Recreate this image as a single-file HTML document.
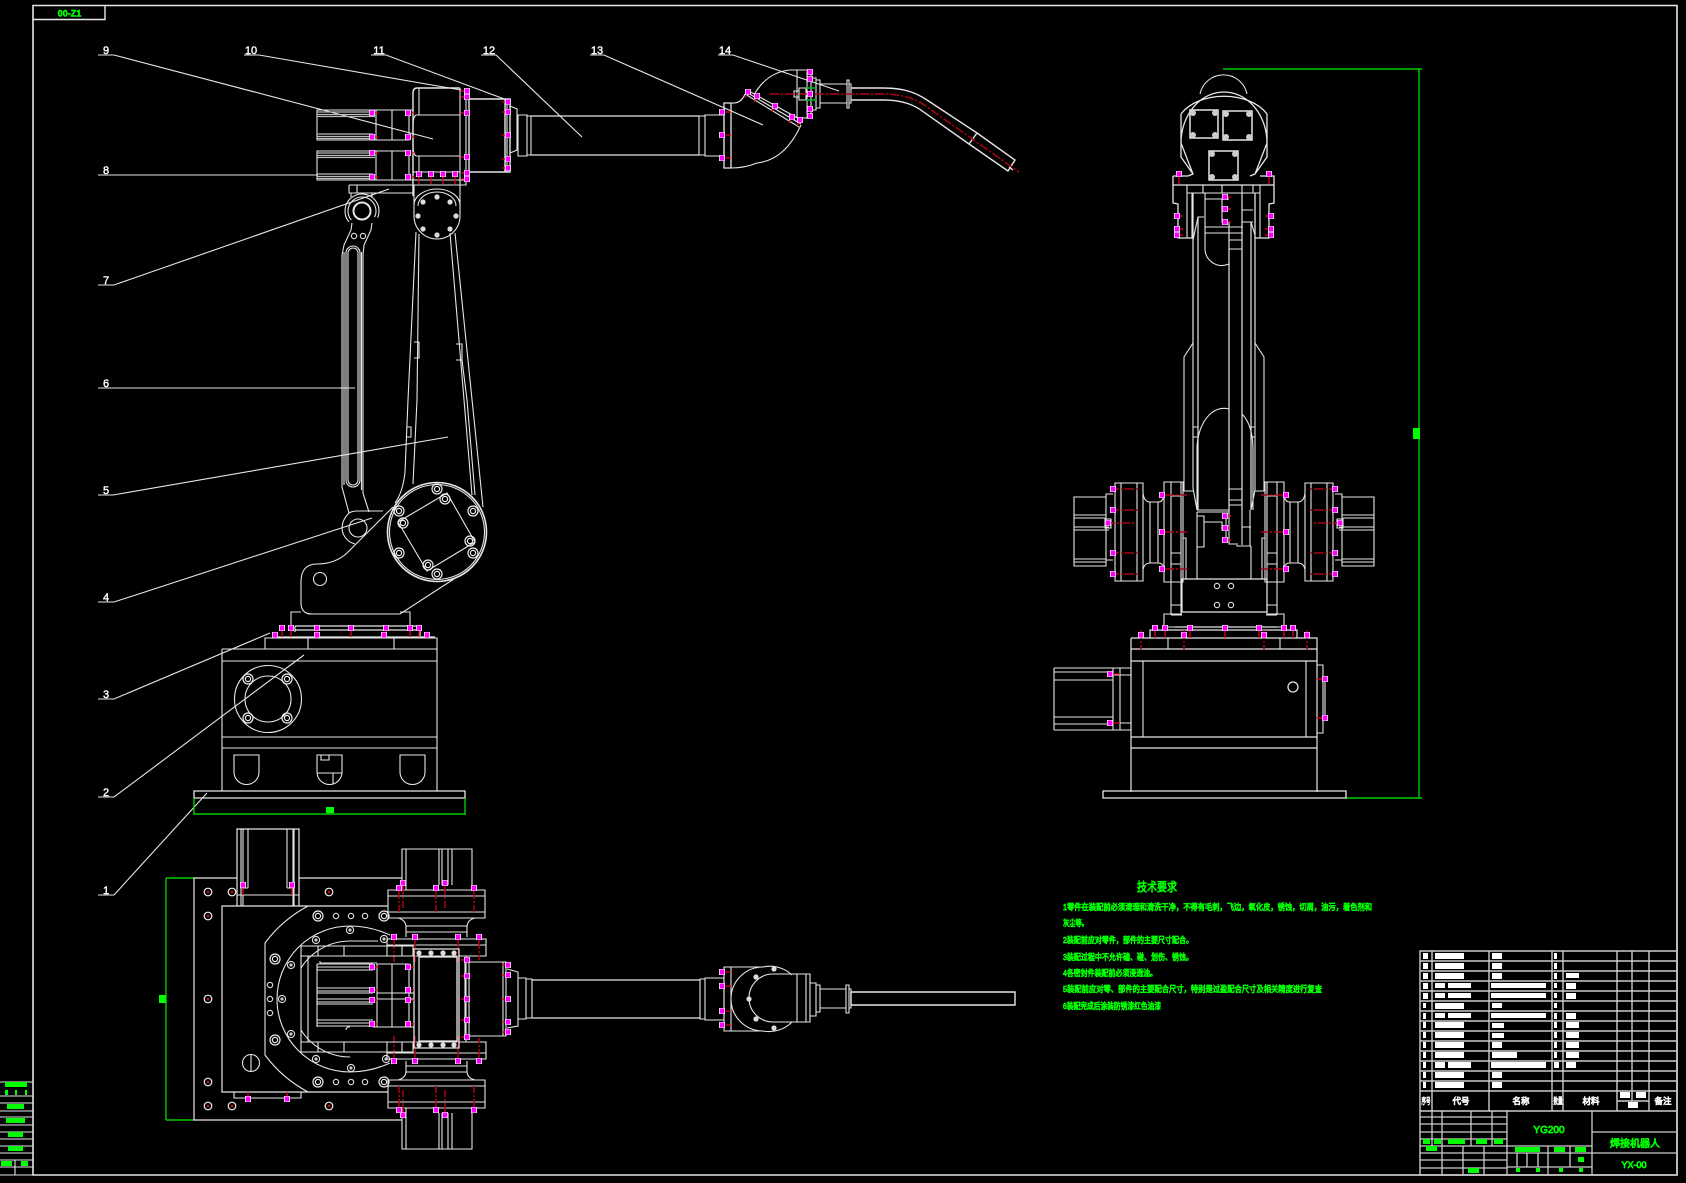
<!DOCTYPE html>
<html lang="zh"><head><meta charset="utf-8"><title>焊接机器人</title>
<style>
html,body{margin:0;padding:0;background:#000;width:1686px;height:1183px;overflow:hidden}
svg{display:block}
.w{fill:none;stroke:#e6e6e6;stroke-width:1.1}
.t{fill:none;stroke:#e6e6e6;stroke-width:1.4}
.g{fill:none;stroke:#0c0;stroke-width:1.4}
.r{fill:none;stroke:#e0001a;stroke-width:1.3}
.d{fill:none;stroke:#b00010;stroke-width:1.5;stroke-dasharray:9 2 2 2}
.gf{fill:#0f0}.wf{fill:#fff}
text{font-family:"Liberation Sans","Noto Sans CJK SC",sans-serif}
.lb{fill:#fff;font-size:11px;text-anchor:middle;stroke:#fff;stroke-width:.4}
.cn{fill:#0f0;stroke:#0f0;stroke-width:.75;font-size:8.5px}
.hd{fill:#fff;stroke:#fff;stroke-width:.7;font-size:8.5px;text-anchor:middle}
</style></head><body>
<svg width="1686" height="1183" viewBox="0 0 1686 1183" xmlns="http://www.w3.org/2000/svg">
<defs>
<g id="b"><rect x="-3" y="-3" width="6" height="6" fill="#eee"/><rect x="-2.200" y="-2.500" width="4.400" height="5" fill="#f0f"/></g>
<g id="h"><circle r="3.6" fill="none" stroke="#ddd" stroke-width="1.1"/><circle r="1.6" fill="#ccc"/></g>
<g id="f"><circle r="2.6" fill="#ddd"/></g>
<g id="H"><circle r="5" fill="none" stroke="#eee" stroke-width="1.2"/><circle r="2.6" fill="none" stroke="#eee" stroke-width="1.2"/></g>
<g id="o"><circle r="2.7" fill="none" stroke="#ddd" stroke-width="1.1"/></g>
<g id="p"><circle r="3.8" fill="none" stroke="#eee" stroke-width="1.2"/><circle r="1.2" fill="#e00"/></g>

<g id="sideL">
 <path class="w" d="M1074 497H1106V566H1074ZM1074 515H1106M1074 518H1105M1074 527H1109M1074 530H1109M1074 559H1106M1074 562H1106M1106 497V494H1113M1106 566V560H1113"/>
 <path class="w" d="M1105 519H1111V528H1105Z"/>
 <path class="w" d="M1115 483H1143V581H1115ZM1121 483V581M1137 483V581M1143 493Q1144 502 1150 502H1158Q1164 502 1164 493M1143 570Q1144 563 1150 563H1158Q1164 563 1164 570M1150 502V563M1158 502V563"/>
 <path class="w" d="M1164 482H1183V582H1164Z"/>
 <path class="w" d="M1171 482V615M1181 482V615M1171 496H1181M1171 553H1181M1171 564H1181M1171 605H1181M1171 615H1182M1183 538H1186V579"/>
 <path class="d" d="M1110 489H1138M1110 510H1138M1110 553H1138M1110 574H1138M1106 523H1134M1165 495H1187M1165 532H1187M1165 569H1187"/>
 <use href="#b" x="1113" y="489"/><use href="#b" x="1113" y="510"/><use href="#b" x="1113" y="553"/><use href="#b" x="1113" y="574"/><use href="#b" x="1108" y="523"/>
 <use href="#b" x="1162" y="495"/><use href="#b" x="1162" y="532"/><use href="#b" x="1162" y="569"/>
</g>

<g id="planHalf">
 <path class="w" d="M402 890V849H472V890M406 849V890M439 849V885M442 849V885M448 849V885M452 849V885"/>
 <path class="w" d="M388 890H485V918H388Z"/>
 <path class="w" d="M388 896H485M388 912H485M398 918Q406 920 406 927V937M475 918Q467 920 467 927V937M406 926H467M406 932H467"/>
 <path class="w" d="M387 939H486V956H387Z"/>
 <path class="w" d="M387 945H486"/>
 <path class="d" d="M399 890V912M403 886V908M436 890V912M445 886V908M474 890V912M394 940V962M415 940V962M458 940V962M479 940V960"/>
 <use href="#b" x="403" y="883"/><use href="#b" x="445" y="883"/><use href="#b" x="399" y="888"/><use href="#b" x="436" y="888"/><use href="#b" x="474" y="888"/>
 <use href="#b" x="394" y="937"/><use href="#b" x="415" y="937"/><use href="#b" x="458" y="937"/><use href="#b" x="479" y="937"/>
 <path class="w" d="M301 946H413V956H301ZM318 946V956M344 946V956M402 946V956"/>
 <use href="#f" x="419" y="953"/><use href="#f" x="431" y="953"/><use href="#f" x="443" y="953"/><use href="#f" x="454" y="953"/>
</g>
</defs>

<rect width="1686" height="1183" fill="#000"/>

<!-- frame -->
<path class="t" style="stroke-width:1.6" d="M33 5.500H1677V1175H33Z"/>
<path class="t" style="stroke-width:1.4" d="M33 19.500H105V5.500"/>
<text x="69.500" y="16.500" style="fill:#0f0;stroke:#0f0;stroke-width:.5;font-size:9px;font-weight:bold;text-anchor:middle">00-Z1</text>
<path class="w" d="M0 1175H33M0 1082H33M0 1096H33M0 1103H33M0 1111H33M0 1117H33M0 1125H33M0 1132H33M0 1139H33M0 1146H33M0 1153H33M0 1160H33M0 1167H33M15 1160V1175"/>
<path class="gf" d="M5 1082h22v5H5ZM5 1090h3v5H5ZM15 1090h2v5h-2ZM25 1090h2v5h-2ZM7 1104h17v5H7ZM6 1118h19v5H6ZM8 1132h15v5H8ZM8 1146h15v5H8ZM1 1161h11v5H1ZM21 1161h7v5h-7Z"/>

<!-- leaders -->
<path class="w" d="M98 55H114L433 139M244 55H259L461 90M371 55H386L507 100M481 55H496L582 137M590 55H604L763 125M718 55H733L839 91M98 175H318M98 285H114L389 189M98 388H355M98 495H113L448 437M98 602H114L372 518M98 699H114L270 633M98 797H114L304 655M98 895H114L207 793"/>
<text class="lb" x="106" y="54">9</text><text class="lb" x="251" y="54">10</text><text class="lb" x="379" y="54">11</text><text class="lb" x="489" y="54">12</text><text class="lb" x="597" y="54">13</text><text class="lb" x="725" y="54">14</text>
<text class="lb" x="106" y="174">8</text><text class="lb" x="106" y="284">7</text><text class="lb" x="106" y="387">6</text><text class="lb" x="106" y="494">5</text><text class="lb" x="106" y="601">4</text><text class="lb" x="106" y="698">3</text><text class="lb" x="106" y="796">2</text><text class="lb" x="106" y="894">1</text>

<!-- SIDE VIEW: motors -->
<path class="w" d="M317 110H409V140H317ZM317 151H409V180H317ZM376 110V140M376 151V180M392 110V140M392 151V180M409 110H413M409 180H413"/>
<path class="t" style="stroke-width:1.3;stroke:#bbb" d="M317 112H373M317 114.500H373M317 116.500H375M317 134H373M317 136.500H373M317 138.500H373M317 153H373M317 155.500H373M317 157.500H375M317 174H373M317 176.500H373M317 178.500H373"/>
<!-- head -->
<path class="t" d="M460 88H417Q413 88 413 93V196"/>
<path class="w" d="M419 88V115M419 156V172M460 88V185M466 88V185H460M416 115H460M416 156H460M416 115Q413 117 413 125V146Q413 154 416 156M413 172H460M413 180H466M349 185H466M349 185V193H413M357 185V193"/>
<path class="t" d="M469 99H505V172H469ZM505 99H510V172H505Z"/>
<path class="w" d="M507 99V172M510 106L517 109V150L510 153M518 115H527V156H518ZM527 116H531V155H527Z"/>
<path class="t" style="stroke-width:1.3" d="M531 116H699M531 155H699"/>
<path class="w" d="M699 116H705V155H699ZM705 115H724V156H705Z"/>
<path class="t" style="stroke-width:1.3" d="M724 103H731V168H724Z"/>
<!-- wrist -->
<path class="w" d="M731 103Q741 104 745 94M747 90L803 121M745 94L799 127M746 92L801 124M755 93Q768 72 790 70H807M801 125Q785 160 757 163Q745 168 731 168M797 70V118H807M807 70V118H811V70ZM811 78H816V110H811ZM816 80H820V108H816ZM820 84H847V103H820ZM847 80H849V108H847ZM849 84H851V103H849ZM794 91H799V97H794ZM799 88H806V100H799Z"/>
<path d="M806 88H816M806 100H816" stroke="#0b2" stroke-width="1.4" fill="none"/>
<path class="t" d="M851 88H883C903 88 915 92 927 100L977 133L1015 160L1008 171L969 144L925 113C915 105 903 100 883 100H851M977 133L969 144M1009 167L1013 170"/>
<path class="d" d="M770 94H887C900 95 910 97 920 102L1019 172"/>
<use href="#b" x="722" y="112"/><use href="#b" x="722" y="135"/><use href="#b" x="722" y="158"/>
<path class="r" d="M726 112H731M726 135H731M726 158H731M748 92l-3 6M757 96l-3 6M775 106l-3 6M792 117l-3 6M800 120l-3 6M806 71H813M806 78H813M806 94H813M806 109H813M806 115H813"/>
<use href="#b" x="748" y="92"/><use href="#b" x="757" y="96"/><use href="#b" x="775" y="106"/><use href="#b" x="792" y="117"/><use href="#b" x="800" y="120"/>
<use href="#b" x="810" y="72"/><use href="#b" x="810" y="79"/><use href="#b" x="810" y="94"/><use href="#b" x="810" y="109"/><use href="#b" x="810" y="116"/>
<!-- head bolts -->
<path class="r" d="M461 91H467M461 97H467M461 113H467M461 157H467M461 173H467M461 179H467M502 102H508M502 112H508M502 135H508M502 159H508M502 168H508M372 113H378M372 137H378M372 153H378M372 177H378M408 113H414M408 137H414M408 153H414M408 177H414M419 176V184M431 176V184M443 176V184M455 176V184"/>
<use href="#b" x="467" y="91"/><use href="#b" x="467" y="97"/><use href="#b" x="467" y="113"/><use href="#b" x="467" y="157"/><use href="#b" x="467" y="173"/><use href="#b" x="467" y="179"/>
<use href="#b" x="508" y="102"/><use href="#b" x="508" y="112"/><use href="#b" x="508" y="135"/><use href="#b" x="508" y="159"/><use href="#b" x="508" y="168"/>
<use href="#b" x="372" y="113"/><use href="#b" x="372" y="137"/><use href="#b" x="372" y="153"/><use href="#b" x="372" y="177"/><use href="#b" x="408" y="113"/><use href="#b" x="408" y="137"/><use href="#b" x="408" y="153"/><use href="#b" x="408" y="177"/>
<use href="#b" x="419" y="174"/><use href="#b" x="431" y="174"/><use href="#b" x="443" y="174"/><use href="#b" x="455" y="174"/>
<!-- elbow -->
<path class="w" d="M414 185V216A23 23 0 0 0 460 216V185M414 205A23 16 0 0 1 460 205M418 206A19 14 0 0 1 456 206"/>
<use href="#f" x="423" y="202"/><use href="#f" x="437" y="197"/><use href="#f" x="450" y="202"/><use href="#f" x="418" y="216"/><use href="#f" x="456" y="216"/><use href="#f" x="423" y="229"/><use href="#f" x="437" y="235"/><use href="#f" x="450" y="229"/>
<!-- upper arm -->
<path class="w" d="M416 232L408 400L405 472Q403 492 395 503M419 234L417 400L413 484M414 342H419V358H414M407 427H411V437H407M450 233L472 495M455 233L483 507M456 344H462V360H456M462 360L467 400L475 495"/>
<!-- link -->
<circle class="w" cx="362" cy="211" r="17" style="stroke-dasharray:72 35" transform="rotate(140 362 211)"/>
<circle class="w" cx="362" cy="211" r="14" style="stroke-dasharray:60 28" transform="rotate(140 362 211)"/>
<circle class="t" cx="362" cy="211" r="8.500" style="stroke-width:2"/>
<path class="w" d="M351 193V197M372 193V197M352 223L351 230L344 245L342 255V487L349 513M372 223L371 230L364 245L363 255V493L369 512M344 252V485M361.500 252V490M346 480V253A7 7 0 0 1 360 253V480A7 7 0 0 1 346 480ZM348 480V253A5 5 0 0 1 358 253V480A5 5 0 0 1 348 480Z"/>
<use href="#o" x="354" y="236"/><use href="#o" x="363" y="236"/>
<circle class="w" cx="358" cy="528" r="9"/>
<path class="w" d="M349 513Q342 520 342 528A17 17 0 0 0 355 544M349 513Q352 511 358 511H383"/>
<!-- shoulder / bracket -->
<circle class="t" cx="437" cy="532" r="49.500" style="stroke-width:1.6"/>
<circle class="w" cx="437" cy="532" r="47.500"/>
<path class="w" d="M398 522L447 493L475 542L427 571Z"/>
<use href="#H" x="437" y="489"/><use href="#H" x="473" y="511"/><use href="#H" x="473" y="553"/><use href="#H" x="437" y="574"/><use href="#H" x="399" y="553"/><use href="#H" x="399" y="511"/><use href="#H" x="403" y="523"/><use href="#H" x="445" y="499"/><use href="#H" x="470" y="541"/><use href="#H" x="428" y="565"/>
<path class="w" d="M393 507L347 553Q335 564 317 564Q301 564 301 582V603Q301 614 312 614H400L457 577"/>
<circle class="w" cx="320" cy="579" r="6.500"/>
<!-- base -->
<path class="w" d="M291 627V612H301M308 614H400M400 612H410V627"/>
<path class="t" style="stroke-width:1.2" d="M295 626H419M295 630H420V637M295 626V632M272 637H435"/>
<path class="w" d="M265 649V638H437V791M308 638V649M394 638V649M222 649H437M222 649V791M222 661H437M222 737H437M222 748H437"/>
<circle class="w" cx="268" cy="699" r="33.500"/><circle class="w" cx="268" cy="699" r="23"/>
<use href="#H" x="248" y="679"/><use href="#H" x="287" y="679"/><use href="#H" x="248" y="718"/><use href="#H" x="287" y="718"/>
<path class="w" d="M234 755H259V772A12.500 12.500 0 0 1 234 772ZM317 755H342V772A12.500 12.500 0 0 1 317 772ZM400 755H425V772A12.500 12.500 0 0 1 400 772ZM317 773H342M333 773V784M321 755V760H329V755"/>
<path class="r" d="M282 630V637M291 630V637M317 630V637M351 630V637M386 630V637M410 630V637M419 630V637"/>
<use href="#b" x="282" y="628"/><use href="#b" x="291" y="628"/><use href="#b" x="317" y="628"/><use href="#b" x="351" y="628"/><use href="#b" x="386" y="628"/><use href="#b" x="410" y="628"/><use href="#b" x="419" y="628"/>
<use href="#b" x="275" y="635"/><use href="#b" x="317" y="635"/><use href="#b" x="384" y="635"/><use href="#b" x="427" y="635"/>
<path class="t" style="stroke-width:1.3" d="M194 791H465V798H194Z"/>
<path class="g" d="M194 798V815M465 798V815M194 814H465"/><rect class="gf" x="326" y="807" width="8" height="6"/>

<!-- RIGHT VIEW -->
<path class="g" d="M1223 69H1422M1419 69V798M1346 798H1422"/><rect class="gf" x="1413" y="428" width="7" height="11"/>
<path class="w" d="M1200 94A24 24 0 0 1 1247 94"/>
<path class="t" style="stroke-width:1.3" d="M1181 114A48 32 0 0 1 1267 114V157L1255 174M1181 114V157L1193 174M1181 143A43 51 0 0 1 1267 143L1255 174L1250 176M1181 143L1193 174L1188 176"/>
<path class="t" style="stroke-width:1.5" d="M1190 110H1218V138H1190ZM1223 111H1252V140H1223ZM1209 151H1238V180H1209Z"/>
<g fill="#ccc"><circle cx="1193" cy="113" r="3"/><circle cx="1215" cy="113" r="3"/><circle cx="1193" cy="135" r="3"/><circle cx="1215" cy="135" r="3"/><circle cx="1226" cy="114" r="3"/><circle cx="1249" cy="114" r="3"/><circle cx="1226" cy="137" r="3"/><circle cx="1249" cy="137" r="3"/><circle cx="1212" cy="154" r="3"/><circle cx="1235" cy="154" r="3"/><circle cx="1212" cy="177" r="3"/><circle cx="1235" cy="177" r="3"/></g>
<path class="t" style="stroke-width:1.3" d="M1173 176H1188M1260 176H1274V185H1173V176M1173 185V203L1178 204V238H1193M1274 185V203L1269 204V238H1255"/>
<path class="w" d="M1187 185V238M1192 193V238M1260 185V238M1255 193V238M1187 193H1260M1203 185V193M1222 185V193M1242 185V193M1253 185V193"/>
<path class="t" style="stroke-width:1.2" d="M1193 193V343M1198 217V510M1229 222V512M1242 193V510M1251 222V510M1255 193V343"/>
<path class="w" d="M1193 240L1198 217H1204M1242 222H1251L1255 235M1205 193V247A17 17 0 0 0 1229 264M1205 199H1229M1205 227H1243M1205 233H1243M1229 240H1242M1229 249H1242M1242 210H1253M1242 222H1253M1222 199V222H1229"/>
<path class="w" d="M1193 343L1184 357V491H1193M1255 343L1264 357V491H1255M1193 343V488L1197 510M1255 343V490L1251 510M1197 510H1229M1197 512H1229M1197 450A27 41 0 0 1 1229 409M1242 414Q1253 425 1253 450M1197 450V510M1253 450V510M1193 427H1198M1193 437H1198M1251 427H1255M1251 437H1255M1229 489H1242M1229 500H1242M1229 505H1242M1242 510V545M1250 510V546M1242 527H1251M1237 545V546H1251M1229 512V544H1238"/>
<path class="w" d="M1197 512V579M1251 546V579M1197 516H1204V547H1197M1204 522H1222V530H1224M1222 516H1226V540H1222"/>
<use href="#sideL"/><use href="#sideL" transform="translate(2448 0) scale(-1 1)"/>
<path class="t" style="stroke-width:1.2" d="M1182 579H1267V612H1182Z"/>
<use href="#o" x="1217" y="586"/><use href="#o" x="1231" y="586"/><use href="#o" x="1217" y="605"/><use href="#o" x="1231" y="605"/>
<path class="w" d="M1164 627V614H1182M1267 614H1284V627M1164 627H1284"/>
<path class="t" style="stroke-width:1.2" d="M1175 627H1277M1150 638V630H1297V638"/>
<path class="t" style="stroke-width:1.2" d="M1131 638H1317V792M1131 638V792M1131 649H1317M1131 661H1317M1131 737H1317M1131 748H1317"/>
<path class="w" d="M1168 638V649M1280 638V649M1143 661V737M1306 661V737M1317 665H1323V733H1317M1323 680H1325V718"/>
<circle class="t" cx="1293" cy="687" r="5" style="stroke-width:1.3"/>
<path class="t" style="stroke-width:1.3" d="M1103 791H1346V798H1103Z"/>
<path class="w" d="M1054 668H1131M1054 672H1113M1054 680H1113M1054 717H1113M1054 724H1113M1054 730H1131M1054 668V730M1113 668V730M1120 668V730M1113 675H1131M1113 723H1131"/>
<path class="d" d="M1141 630V650M1184 630V650M1264 630V650M1307 630V650"/>
<path class="r" d="M1155 630V638M1165 630V638M1190 630V638M1225 630V638M1259 630V638M1284 630V638M1293 630V638M1113 674H1120M1113 723H1120M1316 679H1322M1316 718H1322"/>
<use href="#b" x="1155" y="628"/><use href="#b" x="1165" y="628"/><use href="#b" x="1190" y="628"/><use href="#b" x="1225" y="628"/><use href="#b" x="1259" y="628"/><use href="#b" x="1284" y="628"/><use href="#b" x="1293" y="628"/>
<use href="#b" x="1141" y="635"/><use href="#b" x="1184" y="635"/><use href="#b" x="1264" y="635"/><use href="#b" x="1307" y="635"/>
<use href="#b" x="1110" y="674"/><use href="#b" x="1110" y="723"/><use href="#b" x="1325" y="679"/><use href="#b" x="1325" y="718"/>
<path class="r" d="M1225 516H1231M1225 528H1231M1225 540H1231M1225 197H1231M1225 209H1231M1225 222H1231M1179 176V184M1269 176V184M1177 216H1183M1177 229H1183M1177 235H1183M1265 216H1271M1265 229H1271M1265 235H1271"/>
<use href="#b" x="1225" y="516"/><use href="#b" x="1225" y="528"/><use href="#b" x="1225" y="540"/><use href="#b" x="1225" y="197"/><use href="#b" x="1225" y="209"/><use href="#b" x="1225" y="222"/>
<use href="#b" x="1179" y="174"/><use href="#b" x="1269" y="174"/><use href="#b" x="1177" y="216"/><use href="#b" x="1177" y="229"/><use href="#b" x="1177" y="235"/><use href="#b" x="1271" y="216"/><use href="#b" x="1271" y="229"/><use href="#b" x="1271" y="235"/>

<!-- PLAN VIEW -->
<path class="g" d="M166 878V1120M166 878H194M166 1120H194"/><rect class="gf" x="159" y="995" width="7" height="8"/>
<path class="t" style="stroke-width:1.2" d="M237 878H194V1120H402M299 878H402"/>
<path class="t" style="stroke-width:1.2" d="M237 906V829H299V906"/>
<path class="w" d="M241 829V906M243 829V906M248 829V888M287 829V888M293 829V906M294 829V906M237 895H299M241 888H248M287 888H294"/>
<path class="t" style="stroke-width:1.2" d="M388 906H222V1092H388"/>
<path class="w" d="M308 906Q282 920 265 943V1055Q282 1078 308 1092"/>
<path class="w" d="M350 926A73 73 0 0 0 350 1072M350 926Q370 926 390 935M350 1072Q370 1072 390 1063M350 941A58 58 0 0 0 301 968M350 1057A58 58 0 0 1 301 1030M350 941H378"/>
<use href="#h" x="350" y="930"/><use href="#h" x="316" y="940"/><use href="#h" x="291" y="965"/><use href="#h" x="282" y="999"/><use href="#h" x="291" y="1034"/><use href="#h" x="316" y="1059"/><use href="#h" x="351" y="1068"/><use href="#h" x="386" y="1059"/><use href="#h" x="384" y="939"/>
<use href="#H" x="318" y="916"/><use href="#H" x="384" y="916"/><use href="#H" x="275" y="959"/><use href="#H" x="275" y="1040"/><use href="#H" x="318" y="1082"/><use href="#H" x="384" y="1082"/>
<use href="#o" x="336" y="916"/><use href="#o" x="351" y="916"/><use href="#o" x="365" y="916"/><use href="#o" x="336" y="1082"/><use href="#o" x="351" y="1082"/><use href="#o" x="365" y="1082"/><use href="#o" x="270" y="985"/><use href="#o" x="270" y="999"/><use href="#o" x="270" y="1013"/>
<use href="#p" x="208" y="892"/><use href="#p" x="232" y="892"/><use href="#p" x="329" y="892"/><use href="#p" x="208" y="916"/><use href="#p" x="208" y="999"/><use href="#p" x="208" y="1082"/><use href="#p" x="208" y="1106"/><use href="#p" x="232" y="1106"/><use href="#p" x="329" y="1106"/>
<circle class="w" cx="251" cy="1063" r="8.500"/><path class="w" d="M251 1055V1071"/>
<path class="w" d="M234 1092V1098H301V1092"/>
<path class="r" d="M243 888V895M292 888V895M248 1092V1096M287 1092V1096"/>
<use href="#b" x="243" y="885"/><use href="#b" x="292" y="885"/><use href="#b" x="248" y="1099"/><use href="#b" x="287" y="1099"/>
<use href="#planHalf"/><use href="#planHalf" transform="translate(0 1998) scale(1 -1)"/>
<path class="w" d="M301 956V1042M308 956V1042M301 956H413M301 1042H413M320 961V963H377M377 964H409V1027H377ZM392 964V1027M373 1027H414"/>
<path class="t" style="stroke-width:1.2;stroke:#bbb" d="M317 964H373M317 967H373M317 970H373M317 988H373M317 991H373M317 993H373M317 999H373M317 1002H373M317 1004H373M317 1020H373M317 1023H373M317 1026H373"/>
<path class="w" d="M317 964V1027M377 993H414M377 999H414M350 1027A3 3 0 0 0 346 1030"/>
<path class="t" style="stroke-width:1.3" d="M414 949H459V1048H414ZM419 957H457V1041H419Z"/>
<path class="w" d="M459 956H466V1042H459M465 962V1036M469 962H503V1036H469ZM503 962H506V1036H503ZM507 969L518 972V1026L507 1028M518 978H526V1019H518ZM526 979H532V1018H526Z"/>
<path class="t" style="stroke-width:1.3" d="M532 980H700M532 1018H700"/>
<path class="w" d="M700 979H705V1019H700ZM705 978H724V1020H705Z"/>
<path class="r" d="M372 967H378M372 990H378M372 1000H378M372 1024H378M408 967H414M408 990H414M408 1000H414M408 1024H414M461 960H467M461 976H467M461 999H467M461 1020H467M461 1037H467M502 965H508M502 975H508M502 999H508M502 1022H508M502 1032H508"/>
<use href="#b" x="372" y="967"/><use href="#b" x="372" y="990"/><use href="#b" x="372" y="1000"/><use href="#b" x="372" y="1024"/><use href="#b" x="408" y="967"/><use href="#b" x="408" y="990"/><use href="#b" x="408" y="1000"/><use href="#b" x="408" y="1024"/>
<use href="#b" x="467" y="960"/><use href="#b" x="467" y="976"/><use href="#b" x="467" y="999"/><use href="#b" x="467" y="1020"/><use href="#b" x="467" y="1037"/>
<use href="#b" x="508" y="965"/><use href="#b" x="508" y="975"/><use href="#b" x="508" y="999"/><use href="#b" x="508" y="1022"/><use href="#b" x="508" y="1032"/>
<!-- plan wrist -->
<path class="w" d="M724 967H731V1031H724ZM731 967H763A32 32 0 0 1 792 975M731 1031H763A32 32 0 0 0 792 1022M763 967A32 32 0 0 0 763 1031M797 974H773A24 24 0 0 0 773 1022H797"/>
<path class="w" d="M797 974H810V1022H797ZM806 974V1022M810 983H816V1016H810ZM816 985H820V1012H816ZM820 989H846V1008H820ZM846 985H849V1013H846ZM849 989H851V1008H849Z"/>
<path class="t" d="M851 992H1015V1005H851Z"/>
<use href="#f" x="774" y="969"/><use href="#f" x="756" y="977"/><use href="#f" x="749" y="999"/><use href="#f" x="756" y="1019"/><use href="#f" x="774" y="1028"/>
<path class="r" d="M726 972H731M726 986H731M726 1011H731M726 1025H731"/>
<use href="#b" x="722" y="972"/><use href="#b" x="722" y="986"/><use href="#b" x="722" y="1011"/><use href="#b" x="722" y="1025"/>

<!-- TECH TEXT -->
<text class="cn" x="1137" y="891" textLength="40" lengthAdjust="spacingAndGlyphs" style="font-size:12px">技术要求</text>
<text class="cn" x="1063" y="910" textLength="309" lengthAdjust="spacingAndGlyphs">1零件在装配前必须清理和清洗干净，不得有毛刺，飞边，氧化皮，锈蚀，切屑，油污，着色剂和</text>
<text class="cn" x="1063" y="926" textLength="25" lengthAdjust="spacingAndGlyphs">灰尘等。</text>
<text class="cn" x="1063" y="943" textLength="130" lengthAdjust="spacingAndGlyphs">2装配前应对零件，部件的主要尺寸配合。</text>
<text class="cn" x="1063" y="960" textLength="130" lengthAdjust="spacingAndGlyphs">3装配过程中不允许磕、碰、划伤、锈蚀。</text>
<text class="cn" x="1063" y="976" textLength="94" lengthAdjust="spacingAndGlyphs">4各密封件装配前必须浸透油。</text>
<text class="cn" x="1063" y="992" textLength="259" lengthAdjust="spacingAndGlyphs">5装配前应对零、部件的主要配合尺寸，特别是过盈配合尺寸及相关精度进行复查</text>
<text class="cn" x="1063" y="1009" textLength="98" lengthAdjust="spacingAndGlyphs">6装配完成后涂装防锈漆红色油漆</text>

<!-- TITLE BLOCK -->
<path class="t" style="stroke-width:1.4;stroke:#ccc" d="M1420 951H1677V1175H1420ZM1420 961H1677M1420 971H1677M1420 981H1677M1420 991H1677M1420 1001H1677M1420 1011H1677M1420 1021H1677M1420 1031H1677M1420 1041H1677M1420 1051H1677M1420 1061H1677M1420 1071H1677M1420 1081H1677M1420 1091H1677M1420 1111H1677M1432 951V1111M1489 951V1111M1552 951V1111M1563 951V1111M1617 951V1111M1632 951V1101M1649 951V1111M1617 1101H1649"/>
<path class="wf" d="M1423 953h5v6h-5ZM1435 953h29v6h-29ZM1492 953h10v6h-10ZM1554 953h3v6h-3Z
M1423 963h5v6h-5ZM1435 963h29v6h-29ZM1492 963h10v6h-10ZM1554 963h3v6h-3Z
M1423 973h5v6h-5ZM1435 973h29v6h-29ZM1492 973h10v6h-10ZM1554 973h3v6h-3ZM1566 973h13v5h-13Z
M1423 983h5v6h-5ZM1435 983h10v5h-10ZM1448 983h23v5h-23ZM1491 983h55v5h-55ZM1554 983h3v5h-3ZM1566 983h10v6h-10Z
M1423 993h5v6h-5ZM1435 993h10v5h-10ZM1448 993h23v5h-23ZM1491 993h55v5h-55ZM1554 993h3v5h-3ZM1566 993h10v6h-10Z
M1423 1003h3v5h-3ZM1435 1003h29v6h-29ZM1492 1003h10v5h-10ZM1554 1003h3v5h-3Z
M1423 1013h3v6h-3ZM1435 1013h10v5h-10ZM1448 1013h23v5h-23ZM1491 1013h55v5h-55ZM1554 1013h3v6h-3ZM1566 1013h10v6h-10Z
M1423 1022h3v6h-3ZM1435 1022h29v6h-29ZM1492 1023h12v5h-12ZM1554 1022h3v6h-3ZM1566 1022h13v6h-13Z
M1423 1032h3v6h-3ZM1435 1032h29v6h-29ZM1492 1033h12v5h-12ZM1554 1032h3v6h-3ZM1566 1032h13v6h-13Z
M1423 1042h3v6h-3ZM1435 1042h29v6h-29ZM1492 1042h10v6h-10ZM1554 1042h3v6h-3ZM1566 1042h13v6h-13Z
M1423 1052h3v6h-3ZM1435 1052h29v6h-29ZM1492 1052h25v6h-25ZM1554 1052h3v6h-3ZM1566 1052h13v6h-13Z
M1423 1062h3v6h-3ZM1435 1062h10v6h-10ZM1448 1062h23v6h-23ZM1491 1062h55v6h-55ZM1554 1062h5v6h-5ZM1566 1062h10v6h-10Z
M1423 1072h3v6h-3ZM1435 1072h29v6h-29ZM1492 1072h10v6h-10Z
M1423 1082h3v6h-3ZM1435 1082h29v6h-29ZM1492 1082h10v6h-10Z
M1620 1092h10v6h-10ZM1636 1092h10v6h-10ZM1628 1102h10v6h-10Z"/>
<text class="hd" x="1426" y="1104" textLength="9" lengthAdjust="spacingAndGlyphs">序号</text><text class="hd" x="1461" y="1104">代号</text><text class="hd" x="1521" y="1104">名称</text><text class="hd" x="1558" y="1104" textLength="9" lengthAdjust="spacingAndGlyphs">数量</text><text class="hd" x="1591" y="1104">材料</text><text class="hd" x="1663" y="1104">备注</text>
<path class="w" style="stroke:#ccc;stroke-width:1.3" d="M1420 1117H1507M1420 1124H1507M1420 1132H1507M1420 1139H1507M1420 1146H1592M1420 1153H1592M1420 1160H1507M1420 1168H1507M1507 1111V1175M1592 1111V1175M1592 1132H1677M1592 1153H1677M1432 1111V1146M1442 1111V1175M1471 1111V1146M1492 1111V1146M1463 1146V1175M1484 1146V1175M1507 1167H1592M1548 1146V1175M1570 1146V1167M1517 1153V1167M1527 1153V1167M1538 1153V1167"/>
<path class="gf" d="M1423 1139h7v5h-7ZM1434 1139h7v5h-7ZM1448 1139h17v5h-17ZM1476 1139h11v5h-11ZM1494 1139h9v5h-9ZM1426 1146h11v5h-11ZM1468 1168h11v5h-11ZM1515 1147h25v5h-25ZM1554 1147h11v5h-11ZM1575 1147h11v5h-11ZM1578 1157h6v5h-6ZM1516 1168h4v4h-4ZM1536 1168h4v4h-4ZM1559 1168h4v4h-4ZM1579 1168h4v4h-4Z"/>
<text x="1549" y="1133" style="fill:#0f0;stroke:#0f0;stroke-width:.8;font-size:10px;text-anchor:middle">YG200</text>
<text x="1635" y="1147" style="fill:#0f0;stroke:#0f0;stroke-width:.8;font-size:10px;text-anchor:middle">焊接机器人</text>
<text x="1634" y="1168" style="fill:#0f0;stroke:#0f0;stroke-width:.8;font-size:9px;text-anchor:middle">YX-00</text>
</svg>
</body></html>
